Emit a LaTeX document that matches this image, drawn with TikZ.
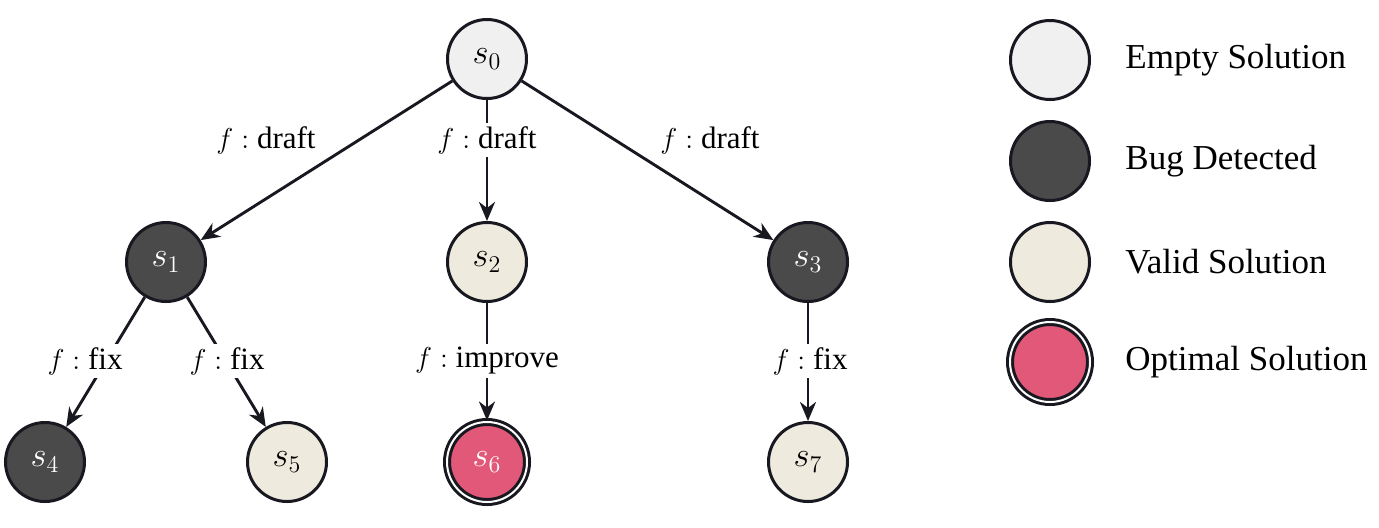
\documentclass[tikz,border=0pt]{standalone}
\usepackage[no-math]{fontspec}
\setmainfont{Liberation Serif}
\usetikzlibrary{arrows.meta}
\definecolor{emptyc}{RGB}{240,240,240}
\definecolor{bugc}{RGB}{74,74,74}
\definecolor{validc}{RGB}{238,234,222}
\definecolor{optc}{RGB}{225,88,121}
\definecolor{linec}{RGB}{24,24,32}
\tikzset{
  st/.style={circle, draw=linec, line width=1.5pt, minimum size=39.5pt, inner sep=0pt,
    font=\fontsize{17}{20}\selectfont},
  emptyst/.style={st, fill=emptyc, text=black},
  bugst/.style={st, fill=bugc, text=white},
  validst/.style={st, fill=validc, text=black},
  optst/.style={st, fill=optc, text=white, double=white, double distance=1pt, minimum size=40pt},
  edge/.style={draw=linec, line width=1.45pt, -{Stealth[length=9.5pt,width=8pt,inset=3pt]}},
  lab/.style={fill=white, inner sep=1.5pt, font=\fontsize{15.5}{19}\selectfont},
  legtext/.style={anchor=west, inner sep=0pt, font=\fontsize{17.5}{21}\selectfont},
}
\begin{document}
\begin{tikzpicture}[x=0.5pt,y=-0.5pt]
\useasboundingbox (0,0) rectangle (1379,527);
% tree nodes
\node[emptyst] (s0) at (487,59) {$s_0$};
\node[bugst]   (s1) at (166,262) {$s_1$};
\node[validst] (s2) at (487,262) {$s_2$};
\node[bugst]   (s3) at (808,262) {$s_3$};
\node[bugst]   (s4) at (45,462) {$s_4$};
\node[validst] (s5) at (287,462) {$s_5$};
\node[optst]   (s6) at (487,462) {$s_6$};
\node[validst] (s7) at (808,462) {$s_7$};
% edges
\draw[edge] (s0) -- (s1);
\draw[edge] (s0) -- (s2);
\draw[edge] (s0) -- (s3);
\draw[edge] (s1) -- (s4);
\draw[edge] (s1) -- (s5);
\draw[edge] (s2) -- (s6);
\draw[edge] (s3) -- (s7);
% labels
\node[lab] (l1) at (266,140) {$f:$ draft};
\node[lab] (l2) at (487,140) {$f:$ draft};
\node[lab] (l3) at (710,140) {$f:$ draft};
\node[lab] (l4) at (85,361) {$f:$ fix};
\node[lab] (l5) at (227,361) {$f:$ fix};
\node[lab] (l6) at (487,361) {$f:$ improve};
\node[lab] (l7) at (810,361) {$f:$ fix};
% legend
\node[emptyst] (g1) at (1050,60) {};
\node[bugst]   (g2) at (1050,161) {};
\node[validst] (g3) at (1050,262) {};
\node[optst]   (g4) at (1050,362) {};
\node[legtext] (t1) at (1125,60) {Empty Solution};
\node[legtext] (t2) at (1125,161) {Bug Detected};
\node[legtext] (t3) at (1125,262) {Valid Solution};
\node[legtext] (t4) at (1125,362) {Optimal Solution};
\end{tikzpicture}
\end{document}
